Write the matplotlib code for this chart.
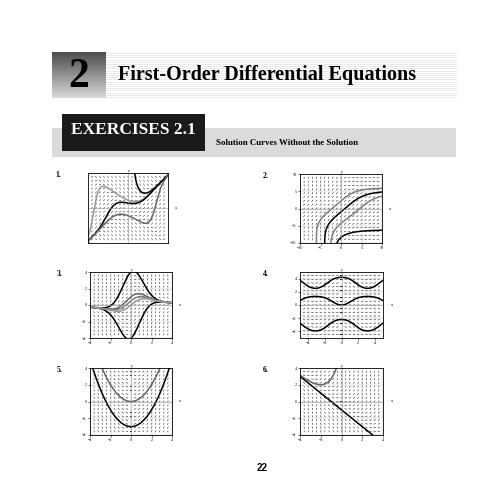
import numpy as np
import matplotlib
matplotlib.use('Agg')
import matplotlib.pyplot as plt
from matplotlib.patches import Rectangle

plt.rcParams['font.family'] = ['Liberation Serif', 'DejaVu Serif']

W = 495.0

# exercise numbers, window limits and starting points of drawn solution curves
labels = ['1.', '2.', '3.', '4.', '5.', '6.']
xlims = [(-3, 3), (-10, 10), (-4, 4), (-5, 5), (-4, 4), (-4, 4)]
ylims = [(-3, 3), (-10, 10), (-4, 4), (-5, 5), (-4, 4), (-4, 4)]
xticks = [[], [-10, -5, 0, 5, 10], [-4, -2, 0, 2, 4], [-4, -2, 0, 2, 4], [-4, -2, 0, 2, 4], [-4, -2, 0, 2, 4]]
yticks = [[], [-10, -5, 0, 5, 10], [-4, -2, 0, 2, 4], [-4, -2, 0, 2, 4], [-4, -2, 0, 2, 4], [-4, -2, 0, 2, 4]]
starts = [
    [(-3, -3, 'k'), (0.5, 3, 'k'), (-2.2, 1.5, '0.6'), (-1, 0.3, 'k'), (1.7, -1.0, '0.4')],
    [(-4, -10, 'k'), (-2.5, -10, '0.5'), (-1, -10, 'k'), (-6, -10, '0.5')],
    [(0, 4, 'k'), (0, -4, 'k'), (0, 1, '0.4'), (0, 0.5, '0.5'), (0, 0, '0.6')],
    [(0, 4.2, 'k'), (0, 0, 'k'), (0, -2.2, 'k')],
    [(0, 0, '0.4'), (0, -3, 'k')],
    [(0, -1, 'k'), (-2, 2, '0.4')],
]
eqs = [
    lambda x, y: x**2 - y**2,
    lambda x, y: np.exp(-0.01 * x * y**2),
    lambda x, y: 1 - x * y,
    lambda x, y: np.sin(x) * np.cos(y),
    lambda x, y: x + 0 * y,
    lambda x, y: x + y,
]
boxes = [(88, 173, 80, 70), (300, 174, 82, 69), (90, 272, 82, 66),
         (300, 272, 83, 66), (90, 368, 82, 67), (300, 368, 83, 67)]


def solve(f, x0, y0, xmin, xmax, ylim):
    pts = []
    span = ylim[1] - ylim[0]
    for direction in (-1, 1):
        xs, ys = [x0], [y0]
        x, y = x0, y0
        h = (xmax - xmin) / 1500 * direction
        for _ in range(1500):
            k1 = f(x, y); k2 = f(x + h/2, y + h/2*k1)
            k3 = f(x + h/2, y + h/2*k2); k4 = f(x + h, y + h*k3)
            y = y + h/6*(k1 + 2*k2 + 2*k3 + k4); x = x + h
            if x < xmin or x > xmax or y < ylim[0] - span or y > ylim[1] + span:
                break
            xs.append(x); ys.append(y)
        pts.append((xs, ys))
    xs = pts[0][0][::-1] + pts[1][0][1:]
    ys = pts[0][1][::-1] + pts[1][1][1:]
    return xs, ys


fig = plt.figure(figsize=(4.95, 4.95), dpi=100)
page = fig.add_axes([0, 0, 1, 1])
page.set_xlim(0, W); page.set_ylim(W, 0); page.axis('off')

# chapter header
grad = np.linspace(0.3, 0.85, 50).reshape(-1, 1)
page.imshow(grad, cmap='gray', extent=(52, 106, 98, 52), aspect='auto', vmin=0, vmax=1)
page.text(79, 77, '2', fontsize=30, fontweight='bold', ha='center', va='center')
for yy in np.arange(53, 99, 2.2):
    page.plot([106, 456], [yy, yy], color='0.88', lw=0.5)
page.text(118, 75, 'First-Order Differential Equations', fontsize=14.5,
          fontweight='bold', va='center')
page.add_patch(Rectangle((52, 128), 404, 29, color='0.86', lw=0))
page.add_patch(Rectangle((62, 114), 143, 37, color='0.1', lw=0))
page.text(133, 130, 'EXERCISES 2.1', fontsize=12.5, fontweight='bold', color='white',
          ha='center', va='center')
page.text(216, 143, 'Solution Curves Without the Solution', fontsize=6.4,
          fontweight='bold', va='center')
page.text(262, 468, '22', fontsize=7, fontweight='bold', ha='center', va='center',
          family=['Liberation Sans'])

for i in range(6):
    x0, y0, w, h = boxes[i]
    page.text(x0 - 33 if i % 2 == 0 else x0 - 37, y0 + 4, labels[i], fontsize=5.5,
              fontweight='bold')
    ax = fig.add_axes([x0 / W, 1 - (y0 + h) / W, w / W, h / W])
    (a, b), (c, d) = xlims[i], ylims[i]
    xr, yr = b - a, d - c
    gx, gy = np.meshgrid(np.linspace(a, b, 21)[1:-1], np.linspace(c, d, 19)[1:-1])
    s = eqs[i](gx, gy)
    # unit length on screen: scale slope by axis ratio
    t = s * xr / yr
    dx = 0.03 * xr / np.sqrt(1 + t**2)
    dy = s * dx
    ax.quiver(gx, gy, dx, dy, angles='xy', scale_units='xy', scale=1, pivot='mid',
              headwidth=1, headlength=0, headaxislength=0, width=0.006, color='k')
    for xs, ys, col in starts[i]:
        px, py = solve(eqs[i], xs, ys, a, b, (c, d))
        ax.plot(px, py, color=col, lw=1.1)
    ax.axhline(0, color='0.6', lw=0.4); ax.axvline(0, color='0.6', lw=0.4)
    ax.set_xlim(a, b); ax.set_ylim(c, d)
    ax.set_xticks(xticks[i]); ax.set_yticks(yticks[i])
    ax.tick_params(labelsize=3, length=1.5, width=0.4, pad=1)
    ax.grid(color='0.7', lw=0.3)
    for sp in ax.spines.values():
        sp.set_linewidth(0.6)
    ax.text(0, d, 'y', fontsize=3.5, ha='center', va='bottom', style='italic')
    ax.text(b + xr * 0.08, 0, 'x', fontsize=3.5, va='center', style='italic')

fig.savefig('out.png', dpi=100)
